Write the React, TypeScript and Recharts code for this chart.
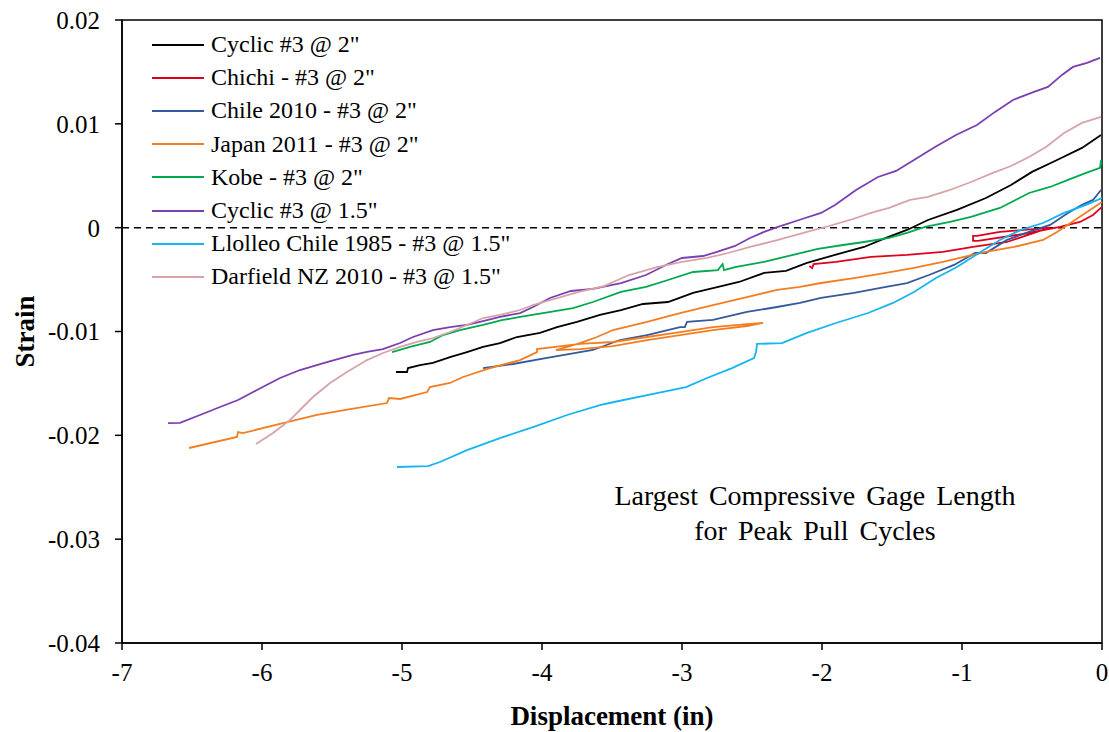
import { Line, LineChart, ReferenceArea, ReferenceLine, XAxis, YAxis } from 'recharts';

type Pt = { x: number; y: number };

const xTicks = [-7, -6, -5, -4, -3, -2, -1, 0];
const yTicks = [-0.04, -0.03, -0.02, -0.01, 0, 0.01, 0.02];

const cyclic2: Pt[] = [
  { x: -5.043, y: -0.0139 }, { x: -4.964, y: -0.0139 }, { x: -4.957, y: -0.01352 }, { x: -4.871, y: -0.01323 },
  { x: -4.779, y: -0.01303 }, { x: -4.657, y: -0.01246 }, { x: -4.536, y: -0.01198 }, { x: -4.421, y: -0.01149 },
  { x: -4.3, y: -0.01111 }, { x: -4.179, y: -0.01053 }, { x: -4.014, y: -0.01014 }, { x: -3.893, y: -0.00957 },
  { x: -3.75, y: -0.00908 }, { x: -3.586, y: -0.00841 }, { x: -3.436, y: -0.00793 }, { x: -3.279, y: -0.00735 },
  { x: -3.1, y: -0.00716 }, { x: -2.921, y: -0.00629 }, { x: -2.771, y: -0.00581 }, { x: -2.593, y: -0.00523 },
  { x: -2.414, y: -0.00436 }, { x: -2.257, y: -0.00417 }, { x: -2.107, y: -0.0034 }, { x: -1.907, y: -0.00263 },
  { x: -1.7, y: -0.00186 }, { x: -1.543, y: -0.00099 }, { x: -1.393, y: -0.00022 }, { x: -1.243, y: 0.00074 },
  { x: -1.036, y: 0.00171 }, { x: -0.829, y: 0.00286 }, { x: -0.65, y: 0.00411 }, { x: -0.5, y: 0.00537 },
  { x: -0.321, y: 0.00652 }, { x: -0.143, y: 0.00768 }, { x: -0.007, y: 0.00893 },
];

const chichi: Pt[] = [
  { x: -2.09, y: -0.0037 }, { x: -2.07, y: -0.0039 }, { x: -2.06, y: -0.0035 }, { x: -1.9, y: -0.0033 },
  { x: -1.65, y: -0.00282 }, { x: -1.393, y: -0.00263 }, { x: -1.136, y: -0.00234 }, { x: -0.921, y: -0.00186 },
  { x: -0.679, y: -0.00138 }, { x: -0.443, y: -0.00032 }, { x: -0.371, y: 0.0 }, { x: -0.729, y: -0.00041 },
  { x: -0.893, y: -0.0008 }, { x: -0.921, y: -0.0008 }, { x: -0.921, y: -0.00128 }, { x: -0.886, y: -0.00128 },
  { x: -0.564, y: -0.00061 }, { x: -0.3, y: 0.00007 }, { x: -0.157, y: 0.00055 }, { x: -0.064, y: 0.00122 },
  { x: 0, y: 0.002 },
];

const chile2010: Pt[] = [
  { x: -4.421, y: -0.01352 }, { x: -4.207, y: -0.01313 }, { x: -3.964, y: -0.01255 }, { x: -3.636, y: -0.01178 },
  { x: -3.443, y: -0.01082 }, { x: -3.25, y: -0.01034 }, { x: -3.014, y: -0.00957 }, { x: -2.98, y: -0.00957 },
  { x: -2.964, y: -0.00908 }, { x: -2.779, y: -0.00889 }, { x: -2.536, y: -0.00812 }, { x: -2.321, y: -0.00764 },
  { x: -2.157, y: -0.00725 }, { x: -2.007, y: -0.00677 }, { x: -1.771, y: -0.00629 }, { x: -1.543, y: -0.00571 },
  { x: -1.393, y: -0.00533 }, { x: -1.236, y: -0.00456 }, { x: -1.057, y: -0.00359 }, { x: -0.907, y: -0.00244 },
  { x: -0.829, y: -0.00244 }, { x: -0.679, y: -0.00118 }, { x: -0.521, y: -0.00041 }, { x: -0.371, y: 0.00026 },
  { x: -0.243, y: 0.00142 }, { x: -0.143, y: 0.00219 }, { x: -0.064, y: 0.00267 }, { x: -0.007, y: 0.00363 },
];

const japan2011: Pt[] = [
  { x: -6.521, y: -0.02122 }, { x: -6.179, y: -0.02016 }, { x: -6.171, y: -0.01968 }, { x: -6.136, y: -0.01978 },
  { x: -5.85, y: -0.01882 }, { x: -5.607, y: -0.01804 }, { x: -5.371, y: -0.01747 }, { x: -5.107, y: -0.01689 },
  { x: -5.093, y: -0.01641 }, { x: -5.014, y: -0.0165 }, { x: -4.821, y: -0.01583 }, { x: -4.8, y: -0.01535 },
  { x: -4.657, y: -0.01496 }, { x: -4.564, y: -0.01438 }, { x: -4.371, y: -0.01352 }, { x: -4.157, y: -0.01275 },
  { x: -4.036, y: -0.01198 }, { x: -4.036, y: -0.01169 }, { x: -3.729, y: -0.0112 }, { x: -3.493, y: -0.01101 },
  { x: -3.25, y: -0.01053 }, { x: -3.014, y: -0.01005 }, { x: -2.779, y: -0.00957 }, { x: -2.536, y: -0.00928 },
  { x: -2.421, y: -0.00918 }, { x: -2.536, y: -0.00947 }, { x: -2.779, y: -0.00986 }, { x: -3.014, y: -0.01034 },
  { x: -3.25, y: -0.01082 }, { x: -3.493, y: -0.0114 }, { x: -3.729, y: -0.01169 }, { x: -3.9, y: -0.0118 },
  { x: -3.729, y: -0.01111 }, { x: -3.607, y: -0.01053 }, { x: -3.493, y: -0.00986 }, { x: -3.25, y: -0.00908 },
  { x: -3.014, y: -0.00822 }, { x: -2.779, y: -0.00745 }, { x: -2.536, y: -0.00668 }, { x: -2.321, y: -0.006 },
  { x: -2.157, y: -0.00571 }, { x: -2.007, y: -0.00533 }, { x: -1.771, y: -0.00485 }, { x: -1.543, y: -0.00436 },
  { x: -1.343, y: -0.00388 }, { x: -1.136, y: -0.0033 }, { x: -0.986, y: -0.00282 }, { x: -0.829, y: -0.00234 },
  { x: -0.629, y: -0.00186 }, { x: -0.421, y: -0.00118 }, { x: -0.321, y: -0.00041 }, { x: -0.193, y: 0.00074 },
  { x: -0.064, y: 0.0019 }, { x: 0, y: 0.00248 },
];

const kobe: Pt[] = [
  { x: -5.071, y: -0.01198 }, { x: -4.943, y: -0.01149 }, { x: -4.8, y: -0.01101 }, { x: -4.707, y: -0.01034 },
  { x: -4.586, y: -0.00986 }, { x: -4.421, y: -0.00937 }, { x: -4.279, y: -0.00889 }, { x: -4.157, y: -0.0086 },
  { x: -3.993, y: -0.00822 }, { x: -3.779, y: -0.00774 }, { x: -3.636, y: -0.00716 }, { x: -3.436, y: -0.00619 },
  { x: -3.257, y: -0.00571 }, { x: -3.1, y: -0.00504 }, { x: -2.921, y: -0.00427 }, { x: -2.743, y: -0.00408 },
  { x: -2.71, y: -0.0035 }, { x: -2.7, y: -0.0041 }, { x: -2.621, y: -0.00379 }, { x: -2.414, y: -0.0033 },
  { x: -2.207, y: -0.00263 }, { x: -2.029, y: -0.00205 }, { x: -1.85, y: -0.00167 }, { x: -1.7, y: -0.00138 },
  { x: -1.521, y: -0.00099 }, { x: -1.393, y: -0.00051 }, { x: -1.264, y: 0.00007 }, { x: -1.086, y: 0.00055 },
  { x: -0.936, y: 0.00103 }, { x: -0.729, y: 0.0019 }, { x: -0.521, y: 0.00334 }, { x: -0.371, y: 0.00392 },
  { x: -0.243, y: 0.0046 }, { x: -0.114, y: 0.00527 }, { x: -0.014, y: 0.00575 }, { x: -0.007, y: 0.0065 },
  { x: 0, y: 0.006 },
];

const cyclic15: Pt[] = [
  { x: -6.671, y: -0.01882 }, { x: -6.586, y: -0.0188 }, { x: -6.443, y: -0.01804 }, { x: -6.3, y: -0.01727 },
  { x: -6.171, y: -0.0166 }, { x: -6.036, y: -0.01564 }, { x: -5.871, y: -0.01448 }, { x: -5.729, y: -0.01371 },
  { x: -5.536, y: -0.01294 }, { x: -5.35, y: -0.01226 }, { x: -5.25, y: -0.01197 }, { x: -5.136, y: -0.01169 },
  { x: -5.014, y: -0.01111 }, { x: -4.921, y: -0.01053 }, { x: -4.779, y: -0.00986 }, { x: -4.657, y: -0.00957 },
  { x: -4.536, y: -0.00937 }, { x: -4.421, y: -0.00899 }, { x: -4.3, y: -0.0086 }, { x: -4.157, y: -0.00822 },
  { x: -4.064, y: -0.00764 }, { x: -3.943, y: -0.00677 }, { x: -3.793, y: -0.0061 }, { x: -3.636, y: -0.0059 },
  { x: -3.436, y: -0.00533 }, { x: -3.257, y: -0.00456 }, { x: -3.1, y: -0.0035 }, { x: -3.0, y: -0.00292 },
  { x: -2.85, y: -0.00273 }, { x: -2.75, y: -0.00234 }, { x: -2.621, y: -0.00176 }, { x: -2.514, y: -0.00099 },
  { x: -2.414, y: -0.00041 }, { x: -2.314, y: 0.00007 }, { x: -2.164, y: 0.00074 }, { x: -2.007, y: 0.00142 },
  { x: -1.907, y: 0.00219 }, { x: -1.757, y: 0.00363 }, { x: -1.6, y: 0.00488 }, { x: -1.471, y: 0.00546 },
  { x: -1.343, y: 0.00652 }, { x: -1.193, y: 0.00777 }, { x: -1.043, y: 0.00893 }, { x: -0.893, y: 0.00989 },
  { x: -0.764, y: 0.01115 }, { x: -0.636, y: 0.0123 }, { x: -0.486, y: 0.01307 }, { x: -0.386, y: 0.01356 },
  { x: -0.286, y: 0.01471 }, { x: -0.207, y: 0.01548 }, { x: -0.107, y: 0.01587 }, { x: -0.014, y: 0.01635 },
];

const llolleo: Pt[] = [
  { x: -5.036, y: -0.02305 }, { x: -4.814, y: -0.02296 }, { x: -4.729, y: -0.02257 }, { x: -4.536, y: -0.02142 },
  { x: -4.3, y: -0.02026 }, { x: -4.064, y: -0.0192 }, { x: -3.821, y: -0.01804 }, { x: -3.586, y: -0.01708 },
  { x: -3.486, y: -0.01679 }, { x: -3.179, y: -0.01593 }, { x: -2.971, y: -0.01535 }, { x: -2.821, y: -0.01448 },
  { x: -2.643, y: -0.01352 }, { x: -2.486, y: -0.01255 }, { x: -2.471, y: -0.01198 }, { x: -2.464, y: -0.0112 },
  { x: -2.286, y: -0.01111 }, { x: -2.107, y: -0.01014 }, { x: -1.9, y: -0.00918 }, { x: -1.671, y: -0.00822 },
  { x: -1.493, y: -0.00725 }, { x: -1.343, y: -0.00619 }, { x: -1.186, y: -0.00485 }, { x: -1.036, y: -0.00379 },
  { x: -0.879, y: -0.00244 }, { x: -0.729, y: -0.00118 }, { x: -0.579, y: -0.00022 }, { x: -0.421, y: 0.00045 },
  { x: -0.271, y: 0.00142 }, { x: -0.114, y: 0.00219 }, { x: 0, y: 0.00286 },
];

const darfield: Pt[] = [
  { x: -6.043, y: -0.02084 }, { x: -5.921, y: -0.01978 }, { x: -5.8, y: -0.01853 }, { x: -5.729, y: -0.01756 },
  { x: -5.636, y: -0.01631 }, { x: -5.514, y: -0.01496 }, { x: -5.393, y: -0.0139 }, { x: -5.25, y: -0.01275 },
  { x: -5.136, y: -0.01207 }, { x: -5.014, y: -0.01149 }, { x: -4.893, y: -0.01101 }, { x: -4.779, y: -0.01063 },
  { x: -4.657, y: -0.01005 }, { x: -4.536, y: -0.00937 }, { x: -4.421, y: -0.0087 }, { x: -4.3, y: -0.00841 },
  { x: -4.157, y: -0.00793 }, { x: -4.064, y: -0.00745 }, { x: -3.943, y: -0.00697 }, { x: -3.736, y: -0.00619 },
  { x: -3.557, y: -0.00562 }, { x: -3.379, y: -0.00456 }, { x: -3.179, y: -0.00379 }, { x: -3.0, y: -0.0033 },
  { x: -2.821, y: -0.00292 }, { x: -2.671, y: -0.00244 }, { x: -2.514, y: -0.00186 }, { x: -2.314, y: -0.00118 },
  { x: -2.107, y: -0.00041 }, { x: -1.95, y: 0.00016 }, { x: -1.8, y: 0.00074 }, { x: -1.65, y: 0.00142 },
  { x: -1.521, y: 0.0019 }, { x: -1.371, y: 0.00267 }, { x: -1.243, y: 0.00296 }, { x: -1.086, y: 0.00363 },
  { x: -0.936, y: 0.0044 }, { x: -0.779, y: 0.00527 }, { x: -0.65, y: 0.00594 }, { x: -0.521, y: 0.00681 },
  { x: -0.4, y: 0.00777 }, { x: -0.271, y: 0.00912 }, { x: -0.143, y: 0.01009 }, { x: -0.007, y: 0.01066 },
];

const SERIES = [
  { name: 'Cyclic #3 @ 2"', data: cyclic2, color: '#000000' },
  { name: 'Chichi - #3 @ 2"', data: chichi, color: '#e0001b' },
  { name: 'Chile 2010 - #3 @ 2"', data: chile2010, color: '#34599c' },
  { name: 'Japan 2011 - #3 @ 2"', data: japan2011, color: '#f47d20' },
  { name: 'Kobe - #3 @ 2"', data: kobe, color: '#00a94f' },
  { name: 'Cyclic #3 @ 1.5"', data: cyclic15, color: '#7b3fb0' },
  { name: 'Llolleo Chile 1985 - #3 @ 1.5"', data: llolleo, color: '#16b4f0' },
  { name: 'Darfield NZ 2010 - #3 @ 1.5"', data: darfield, color: '#d8a3a8' },
];

const FONT = '"Liberation Serif", "Times New Roman", serif';

function fmtY(v: number) {
  if (Math.abs(v) < 1e-9) return '0';
  return v.toFixed(2);
}

export default function App() {
  return (
    <div style={{ position: 'absolute', left: 0, top: 0, width: 1109, height: 732, background: '#fff' }}>
      <LineChart width={1109} height={732} margin={{ top: 20, right: 7, bottom: 0, left: 0 }}>
        <XAxis
          type="number"
          dataKey="x"
          domain={[-7, 0]}
          ticks={xTicks}
          allowDataOverflow
          height={89}
          tickSize={7}
          tickMargin={13}
          axisLine={{ stroke: '#000', strokeWidth: 1.5 }}
          tickLine={{ stroke: '#000', strokeWidth: 1.5 }}
          tick={{ fontFamily: FONT, fontSize: 25, fill: '#000' }}
          label={{ value: 'Displacement  (in)', position: 'insideBottom', offset: 7, style: { fontFamily: FONT, fontSize: 27, fontWeight: 700, fill: '#000', whiteSpace: 'pre' } }}
        />
        <YAxis
          type="number"
          dataKey="y"
          domain={[-0.04, 0.02]}
          ticks={yTicks}
          allowDataOverflow
          width={122}
          tickSize={7}
          tickMargin={15}
          tickFormatter={fmtY}
          axisLine={{ stroke: '#000', strokeWidth: 1.5 }}
          tickLine={{ stroke: '#000', strokeWidth: 1.5 }}
          tick={{ fontFamily: FONT, fontSize: 25, fill: '#000' }}
          label={{ value: 'Strain', angle: -90, position: 'insideLeft', offset: 24, textAnchor: 'middle', style: { fontFamily: FONT, fontSize: 27, fontWeight: 700, fill: '#000', textAnchor: 'middle' } }}
        />
        <ReferenceArea x1={-7} x2={0} y1={-0.04} y2={0.02} fill="none" stroke="#000" strokeWidth={1.5} />
        <ReferenceLine y={0} stroke="#000" strokeWidth={1.5} strokeDasharray="7 5" />
        {SERIES.map((s) => (
          <Line
            key={s.name}
            data={s.data}
            dataKey="y"
            name={s.name}
            type="linear"
            stroke={s.color}
            strokeWidth={1.8}
            dot={false}
            activeDot={false}
            isAnimationActive={false}
          />
        ))}
      </LineChart>
      <div style={{ position: 'absolute', left: 152, top: 28, fontFamily: FONT, fontSize: 24, color: '#000' }}>
        {SERIES.map((s) => (
          <div key={s.name} style={{ display: 'flex', alignItems: 'center', height: 33.2 }}>
            <span style={{ display: 'inline-block', width: 52, height: 2, background: s.color, marginRight: 7 }} />
            <span style={{ whiteSpace: 'pre' }}>{s.name}</span>
          </div>
        ))}
      </div>
      <div
        style={{
          position: 'absolute',
          left: 550,
          top: 478,
          width: 530,
          textAlign: 'center',
          fontFamily: FONT,
          fontSize: 28,
          lineHeight: '35px',
          wordSpacing: 4,
          color: '#000',
        }}
      >
        Largest Compressive Gage Length
        <br />
        for Peak Pull Cycles
      </div>
    </div>
  );
}
